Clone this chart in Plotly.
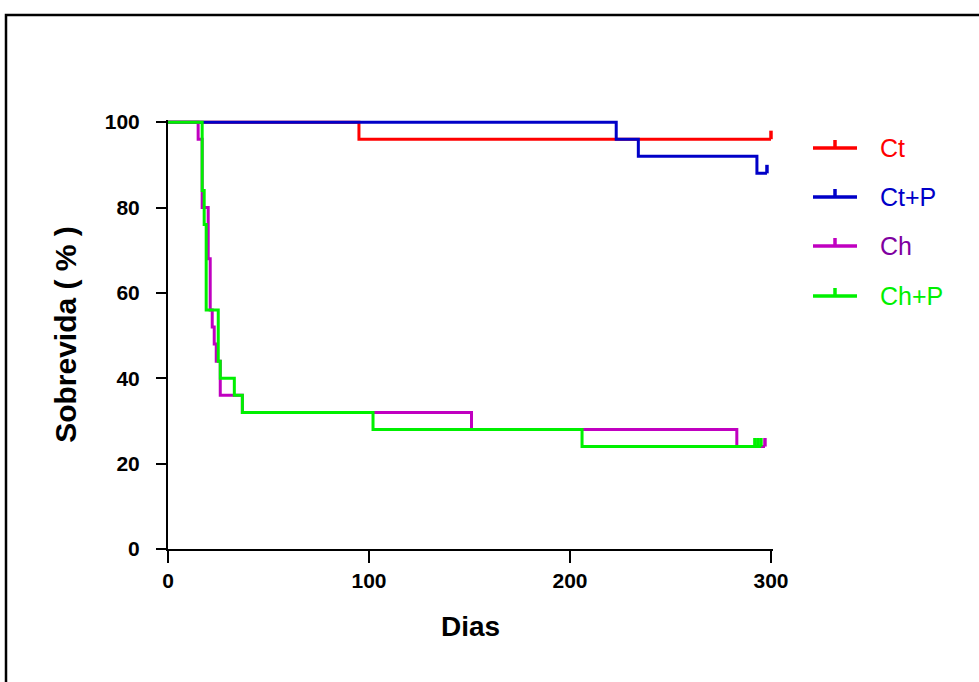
import plotly.graph_objects as go

# ---- data ----
groups = ["Ct", "Ct+P", "Ch", "Ch+P"]

ct_days = [0, 95, 300]
ct_surv = [100, 96, 96]
ct_cens_days = [300]
ct_cens_surv = [96]

ctp_days = [0, 223, 234, 293, 298]
ctp_surv = [100, 96, 92, 88, 88]
ctp_cens_days = [298]
ctp_cens_surv = [88]

ch_days = [0, 15, 17, 20, 21, 22, 23, 24, 26, 37, 151, 283, 297]
ch_surv = [100, 96, 80, 68, 56, 52, 48, 44, 36, 32, 28, 24, 24]
ch_cens_days = [297]
ch_cens_surv = [24]

chp_days = [0, 17, 18, 19, 25, 26, 33, 37, 102, 206, 295]
chp_surv = [100, 84, 76, 56, 44, 40, 36, 32, 28, 24, 24]
chp_cens_days = [292, 293.5, 295]
chp_cens_surv = [24, 24, 24]

x_ticks = [0, 100, 200, 300]
y_ticks = [0, 20, 40, 60, 80, 100]

line_colors = ["#ff0000", "#0000c8", "#c000c0", "#00f000"]
text_colors = ["#ff0000", "#0000c8", "#8000a0", "#00f000"]

series = [
    (ct_days, ct_surv, ct_cens_days, ct_cens_surv),
    (ctp_days, ctp_surv, ctp_cens_days, ctp_cens_surv),
    (ch_days, ch_surv, ch_cens_days, ch_cens_surv),
    (chp_days, chp_surv, chp_cens_days, chp_cens_surv),
]

TICK_H = 2.0  # censor tick height in % units

fig = go.Figure()
for name, color, (d, s, cd, cs) in zip(groups, line_colors, series):
    fig.add_trace(go.Scatter(x=d, y=s, mode="lines", line=dict(color=color, width=3, shape="hv"),
                             name=name, showlegend=False, hoverinfo="skip"))
    cx, cy = [], []
    for t, v in zip(cd, cs):
        cx += [t, t, None]
        cy += [v, v + TICK_H, None]
    fig.add_trace(go.Scatter(x=cx, y=cy, mode="lines", line=dict(color=color, width=3.5),
                             showlegend=False, hoverinfo="skip"))

W, H = 979, 682
L, R, T, B = 168, 206, 120, 133
pw, ph = W - L - R, H - T - B

def px_x(px):
    return (px - L) / pw

def px_y(py):
    return (H - B - py) / ph

FONT = "Liberation Sans, Arial"
shapes = []
annotations = []
# outer frame
shapes.append(dict(type="rect", xref="paper", yref="paper", x0=px_x(6), y0=px_y(720),
                   x1=px_x(1000), y1=px_y(15), line=dict(color="black", width=2.5)))

# manual legend
leg_rows = [148, 197, 246, 296]
for name, lc, tc, yy in zip(groups, line_colors, text_colors, leg_rows):
    shapes.append(dict(type="line", xref="paper", yref="paper", x0=px_x(813), x1=px_x(857),
                       y0=px_y(yy), y1=px_y(yy), line=dict(color=lc, width=3.5)))
    shapes.append(dict(type="line", xref="paper", yref="paper", x0=px_x(835), x1=px_x(835),
                       y0=px_y(yy), y1=px_y(yy - 8), line=dict(color=lc, width=3.5)))
    annotations.append(dict(xref="paper", yref="paper", x=px_x(878), y=px_y(yy),
                            text=name, showarrow=False, xanchor="left", yanchor="middle",
                            font=dict(family=FONT, size=25, color=tc)))

fig.update_layout(
    width=W, height=H,
    margin=dict(l=L, r=R, t=T, b=B),
    paper_bgcolor="white", plot_bgcolor="white",
    showlegend=False,
    shapes=shapes, annotations=annotations,
    xaxis=dict(range=[0, 301], tickvals=x_ticks, ticktext=[str(v) for v in x_ticks],
               showgrid=False, zeroline=False, showline=True, linecolor="black", linewidth=2,
               ticks="outside", ticklen=12, tickwidth=2, tickcolor="black",
               tickfont=dict(family=FONT, size=21, color="black", weight="bold"),
               title=dict(text="Dias", standoff=25,
                          font=dict(family=FONT, size=28, color="black", weight="bold"))),
    yaxis=dict(range=[0, 100.5], tickvals=y_ticks, ticktext=[str(v) for v in y_ticks],
               showgrid=False, zeroline=False, showline=True, linecolor="black", linewidth=2,
               ticks="outside", ticklen=10, tickwidth=2, tickcolor="black",
               ticklabelstandoff=12,
               tickfont=dict(family=FONT, size=21, color="black", weight="bold"),
               title=dict(text="Sobrevida ( % )", standoff=19,
                          font=dict(family=FONT, size=30, color="black", weight="bold"))),
)

fig.write_html("out.html", config={"displayModeBar": False},
               post_script="document.body.style.margin='0';document.body.style.overflow='hidden';")
